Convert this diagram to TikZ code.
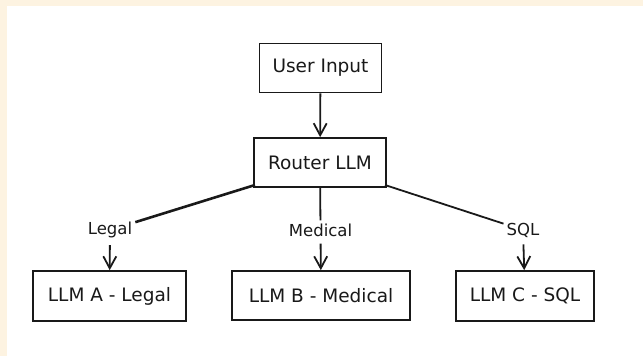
\documentclass[tikz,border=0pt]{standalone}
\usepackage{fontspec}
\setmainfont{DejaVu Sans}
\usetikzlibrary{arrows.meta}
\definecolor{cream}{RGB}{253,243,225}
\definecolor{ink}{RGB}{25,25,25}
\begin{document}
\begin{tikzpicture}[x=1pt,y=-1pt,
  box/.style={draw=ink,line width=1.7pt,minimum height=49pt,inner sep=0pt,font=\fontsize{18.5}{22}\selectfont,text=ink},
  lbl/.style={font=\fontsize{16.5}{20}\selectfont,text=ink,inner sep=3pt},
  conn/.style={draw=ink,line width=1.8pt},
  arr/.style={conn,-{Straight Barb[length=12pt,width=13pt,line width=1.8pt]}}]
\fill[cream] (0,0) rectangle (643,356);
\fill[white] (7,6) rectangle (643,356);
\useasboundingbox (0,0) rectangle (643,356);
\node[box,minimum width=122pt] (ui) at (320.5,68) {User Input};
\node[box,minimum width=132pt] (router) at (320,162.5) {Router LLM};
\node[box,minimum width=153pt,minimum height=50pt] (A) at (109.5,296) {LLM A - Legal};
\node[box,minimum width=178pt] (B) at (321,295.5) {LLM B - Medical};
\node[box,minimum width=138pt,minimum height=50pt] (C) at (525,296) {LLM C - SQL};
\node[lbl] (legal) at (110,230) {Legal};
\node[lbl] (medical) at (320.5,230) {Medical};
\node[lbl] (sql) at (523,230) {SQL};
\coordinate (rl) at (255,185);
\coordinate (rr) at (385,185);
\draw[arr] (ui) -- (router);
\draw[conn,line width=2.6pt] (rl) -- (legal);
\draw[arr,shorten <=4pt] (legal) -- (A);
\draw[conn] (router) -- (medical);
\draw[arr,shorten <=4pt] (medical) -- (B);
\draw[conn] (rr) -- (sql);
\draw[arr,shorten <=4pt] (sql) -- (C);
\end{tikzpicture}
\end{document}
